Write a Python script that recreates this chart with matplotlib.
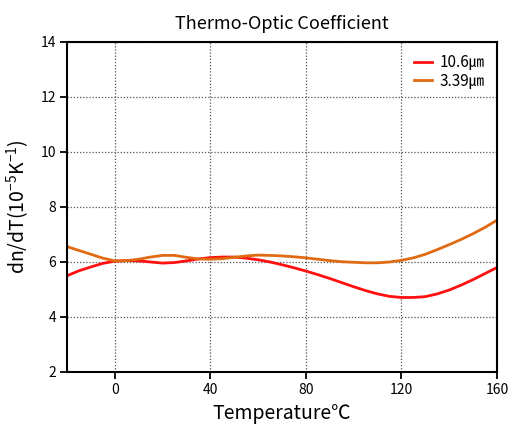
import matplotlib
matplotlib.use("Agg")
import matplotlib.pyplot as plt

plt.rcParams['font.family'] = ['Noto Sans CJK KR', 'DejaVu Sans']
plt.rcParams['mathtext.fontset'] = 'custom'
plt.rcParams['mathtext.rm'] = 'Noto Sans CJK KR'

# temperature in degC
temp = [-20, -15, -10, -5, 0, 5, 10, 15, 20, 25, 30, 35, 40, 45, 50, 55, 60, 65, 70,
        75, 80, 85, 90, 95, 100, 105, 110, 115, 120, 125, 130, 135, 140, 145, 150, 155, 160]
# dn/dT values (10^-5 K^-1)
dndt_106 = [5.50, 5.68, 5.82, 5.95, 6.03, 6.05, 6.04, 6.00, 5.96, 5.98, 6.04, 6.11, 6.16,
            6.18, 6.18, 6.14, 6.08, 6.00, 5.90, 5.79, 5.67, 5.54, 5.40, 5.25, 5.10, 4.96,
            4.84, 4.75, 4.71, 4.71, 4.74, 4.84, 4.98, 5.16, 5.36, 5.58, 5.80]
dndt_339 = [6.56, 6.42, 6.28, 6.14, 6.04, 6.05, 6.10, 6.18, 6.24, 6.24, 6.17, 6.11, 6.10,
            6.12, 6.17, 6.22, 6.25, 6.24, 6.22, 6.19, 6.15, 6.10, 6.05, 6.01, 5.99, 5.97,
            5.97, 6.00, 6.06, 6.15, 6.28, 6.45, 6.63, 6.82, 7.03, 7.26, 7.52]
labels = ["10.6㎛", "3.39㎛"]

fig = plt.figure(figsize=(5.17, 4.29), dpi=100)
ax = fig.add_axes([0.1296, 0.1329, 0.8317, 0.7692])

ax.plot(temp, dndt_106, color="#ff1010", lw=2, label=labels[0])
ax.plot(temp, dndt_339, color="#e06a12", lw=2, label=labels[1])

ax.set_xlim(-20, 160)
ax.set_ylim(2, 14)
ax.set_xticks([0, 40, 80, 120, 160])
ax.set_yticks([2, 4, 6, 8, 10, 12, 14])
ax.grid(True, linestyle=(0, (1, 1.5)), color="#555555", lw=0.9)
for s in ax.spines.values():
    s.set_linewidth(1.5)
ax.tick_params(direction="out", length=5, width=1.3, labelsize=10, pad=3)

ax.set_title("Thermo-Optic Coefficient", fontsize=13, pad=9)
ax.set_xlabel("Temperature℃", fontsize=14, labelpad=4)
ax.set_ylabel("dn/dT(10$^{-5}$K$^{-1}$)", fontsize=14, labelpad=6)

ax.legend(loc="upper right", frameon=False, fontsize=11, handlelength=1.2,
          handletextpad=0.5, labelspacing=0.1, borderaxespad=0.4)

fig.savefig("out.png", dpi=100)
